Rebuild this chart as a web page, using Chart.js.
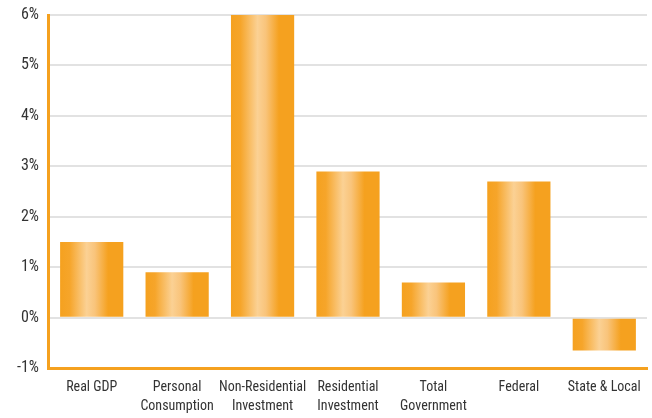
<!DOCTYPE html>
<html lang="en">
<head>
    <meta charset="UTF-8">
    <title>GDP Components</title>
    <script src="https://cdn.jsdelivr.net/npm/chart.js"></script>
    <style>
        html, body { margin: 0; padding: 0; background: #fff; }
        .chart-box { width: 652px; height: 418px; position: relative; }
    </style>
</head>
<body>
<div class="chart-box">
    <canvas id="gdpChart"></canvas>
</div>

<script>
    // categories (multi-line labels) and growth rates in percent
    const categories = [
        'Real GDP',
        ['Personal', 'Consumption'],
        ['Non-Residential', 'Investment'],
        ['Residential', 'Investment'],
        ['Total', 'Government'],
        'Federal',
        'State & Local'
    ];
    const growth = [1.5, 0.9, 6.0, 2.9, 0.7, 2.7, -0.65];
    const yTicks = [-1, 0, 1, 2, 3, 4, 5, 6];

    const ORANGE = '#F5A11F';
    const BAR_PCT = 0.74;
    const FONT = "'Roboto Condensed', 'DejaVu Sans Condensed', sans-serif";

    // horizontal shine across each bar
    function barGradient(c) {
        const chart = c.chart;
        const xs = chart.scales.x;
        if (!xs || c.dataIndex === undefined) return ORANGE;
        const cx = xs.getPixelForValue(c.dataIndex);
        const half = xs.width / categories.length * BAR_PCT / 2;
        if (!isFinite(cx) || !isFinite(half) || half <= 0) return ORANGE;
        const g = chart.ctx.createLinearGradient(cx - half, 0, cx + half, 0);
        g.addColorStop(0, ORANGE);
        g.addColorStop(0.15, '#F6A52A');
        g.addColorStop(0.42, '#FBD194');
        g.addColorStop(0.55, '#F9C47B');
        g.addColorStop(0.76, ORANGE);
        g.addColorStop(1, ORANGE);
        return g;
    }

    new Chart(document.getElementById('gdpChart'), {
        type: 'bar',
        data: {
            labels: categories,
            datasets: [{
                data: growth,
                backgroundColor: barGradient,
                borderWidth: 0,
                barPercentage: BAR_PCT,
                categoryPercentage: 1
            }]
        },
        options: {
            responsive: true,
            maintainAspectRatio: false,
            animation: false,
            // negative bottom pulls the plot down over spare label space
            layout: { padding: { top: 15, right: 5, left: 7, bottom: -8 } },
            plugins: {
                legend: { display: false },
                tooltip: { enabled: false }
            },
            scales: {
                x: {
                    grid: { display: false, drawTicks: false },
                    border: { display: true, color: ORANGE, width: 3 },
                    ticks: {
                        color: '#333',
                        padding: 10,
                        maxRotation: 0,
                        autoSkip: false,
                        font: { family: FONT, size: 14, lineHeight: 1.35 }
                    }
                },
                y: {
                    min: yTicks[0],
                    max: yTicks[yTicks.length - 1],
                    afterBuildTicks: axis => {
                        axis.ticks = yTicks.map(v => ({ value: v }));
                    },
                    // the outer labels sit inside the layout padding already
                    afterFit: axis => {
                        axis.paddingTop = 0;
                        axis.paddingBottom = 0;
                    },
                    grid: {
                        drawTicks: false,
                        lineWidth: 2,
                        color: c => c.tick && c.tick.value === yTicks[0] ? 'rgba(0,0,0,0)' : '#e2e2e2'
                    },
                    border: { display: true, color: ORANGE, width: 3 },
                    ticks: {
                        color: '#333',
                        padding: 10,
                        font: { family: FONT, size: 16 },
                        callback: v => v + '%'
                    }
                }
            }
        }
    });
</script>
</body>
</html>
